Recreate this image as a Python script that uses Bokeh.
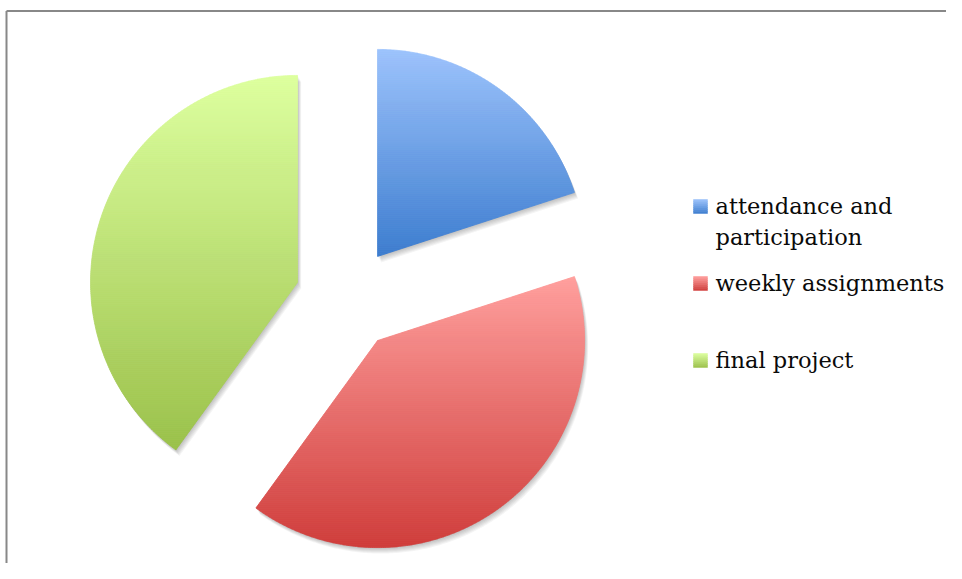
import numpy as np
from bokeh.plotting import figure
from bokeh.models import Range1d
from bokeh.core.properties import value
from bokeh.embed import file_html
from bokeh.resources import INLINE

# ---- data ----
categories = ["attendance and participation", "weekly assignments", "final project"]
legend_lines = [["attendance and", "participation"], ["weekly assignments"], ["final project"]]
shares = [20, 40, 40]
top_colors = ["#9dc3fc", "#ff9f9d", "#ddff9f"]
bottom_colors = ["#3d7dcf", "#cf3d3b", "#9bc14b"]

# ---- layout (screen-pixel coordinates) ----
W, H = 946, 563
CX, CY, R, EXPLODE = 346.5, 298.0, 207.0, 52.0

p = figure(width=W, height=H, output_backend="svg", toolbar_location=None,
           x_range=Range1d(0, W), y_range=Range1d(H, 0),
           min_border=0, outline_line_color=None)
p.axis.visible = False
p.grid.visible = False
p.background_fill_color = "white"
p.border_fill_color = "white"


def hex2rgb(h):
    h = h.lstrip("#")
    return np.array([int(h[i:i + 2], 16) for i in (0, 2, 4)], dtype=float)


def mix(c0, c1, t):
    c = hex2rgb(c0) * (1 - t) + hex2rgb(c1) * t
    return "#%02x%02x%02x" % tuple(int(round(v)) for v in c)


def clip_half(poly, y0, keep_above):
    out = []
    n = len(poly)
    for i in range(n):
        a = poly[i]
        b = poly[(i + 1) % n]
        ina = a[1] >= y0 if keep_above else a[1] <= y0
        inb = b[1] >= y0 if keep_above else b[1] <= y0
        if ina:
            out.append(a)
        if ina != inb:
            t = (y0 - a[1]) / (b[1] - a[1])
            out.append((a[0] + t * (b[0] - a[0]), y0))
    return out


def wedge_poly(a0, a1, ox, oy):
    # angles in degrees, clockwise from 12 o'clock; screen y down
    th = np.radians(np.linspace(a0, a1, 240))
    xs = [ox] + list(ox + R * np.sin(th))
    ys = [oy] + list(oy - R * np.cos(th))
    return list(zip(xs, ys))


total = float(sum(shares))
start = 0.0
polys = []
for s in shares:
    a0 = start
    a1 = start + 360.0 * s / total
    mid = np.radians((a0 + a1) / 2)
    ox = CX + EXPLODE * np.sin(mid)
    oy = CY - EXPLODE * np.cos(mid)
    polys.append(wedge_poly(a0, a1, ox, oy))
    start = a1

# soft shadows
for k in range(1, 7):
    sx, sy = [], []
    for poly in polys:
        sx.append([x + 0.6 * k for x, y in poly])
        sy.append([y + 1.0 * k for x, y in poly])
    p.patches(sx, sy, fill_color="#000000", fill_alpha=0.045, line_color=None)

# gradient-filled slices
for poly, c_top, c_bot in zip(polys, top_colors, bottom_colors):
    ys_all = [y for x, y in poly]
    ymin, ymax = min(ys_all), max(ys_all)
    step = 2.0
    bx, by, bc = [], [], []
    y = ymin
    while y < ymax:
        y2 = min(y + step, ymax)
        part = clip_half(poly, y, True)
        if part:
            part = clip_half(part, y2, False)
        if len(part) >= 3:
            bx.append([q[0] for q in part])
            by.append([q[1] for q in part])
            t = ((y + y2) / 2 - ymin) / (ymax - ymin)
            bc.append(mix(c_top, c_bot, t))
        y = y2
    p.patches(bx, by, fill_color=bc, line_color=bc, line_width=0.8)

# legend
sq_centers = [206, 283, 360]
baselines = [[205, 236], [282], [359]]
for cyl, c_top, c_bot, lines, bls in zip(sq_centers, top_colors, bottom_colors, legend_lines, baselines):
    n = 7
    lefts, rights, tops, bots, cols = [], [], [], [], []
    for i in range(n):
        y0 = cyl - 7 + 14 * i / n
        y1 = cyl - 7 + 14 * (i + 1) / n
        lefts.append(693); rights.append(707)
        tops.append(y0); bots.append(y1)
        cols.append(mix(c_top, c_bot, (i + 0.5) / n))
    p.quad(left=lefts, right=rights, top=tops, bottom=bots, fill_color=cols, line_color=cols, line_width=0.5)
    p.text(x=[715] * len(lines), y=bls, text=lines, text_font=value("DejaVu Serif"),
           text_font_size="22.5px", text_color="#0a0a0a", text_baseline="alphabetic", text_align="left")

# frame border (top and left visible)
p.line([6, 6], [10.5, H], line_color="#888888", line_width=2)
p.line([6, W], [10.5, 10.5], line_color="#888888", line_width=2)

open("out.html", "w").write(file_html(p, INLINE))
